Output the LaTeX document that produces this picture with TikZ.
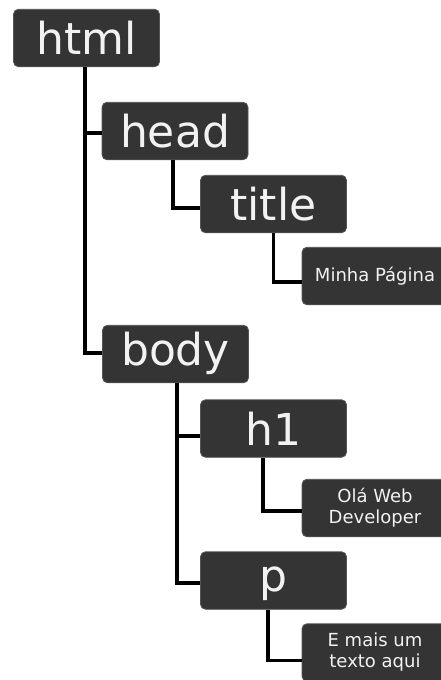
\documentclass[tikz,border=0pt]{standalone}
\usepackage{fontspec}
\setmainfont{DejaVu Sans}
\definecolor{boxfill}{HTML}{343434}
\definecolor{boxline}{HTML}{555555}
\definecolor{boxtext}{HTML}{F2F2F2}
\tikzset{
  tag/.style={draw=boxline, line width=0.8pt, fill=boxfill, rounded corners=5pt,
    minimum width=146pt, minimum height=57.5pt, inner sep=0pt,
    text=boxtext, font=\fontsize{44}{44}\selectfont,
    text height=33.4pt, text depth=0pt},
  tagdesc/.style={tag, text depth=10.5pt},
  leaf/.style={draw=boxline, line width=0.8pt, fill=boxfill, rounded corners=5pt,
    minimum width=146pt, minimum height=57.5pt, inner sep=0pt,
    text=boxtext, align=center, font=\fontsize{18}{21}\selectfont},
  conn/.style={line width=3.2pt, black}
}
\begin{document}
\begin{tikzpicture}[x=1pt,y=-1pt]
  \clip (0,0) rectangle (441,680);
  \fill[white] (0,0) rectangle (441,680);

  % box centres of the element nodes
  \coordinate (htmlc) at (86.5,38);
  \coordinate (headc) at (175,131);
  \coordinate (titlec) at (273.5,204);
  \coordinate (bodyc) at (175.5,354);
  \coordinate (h1c) at (273.5,428.5);
  \coordinate (pc) at (273.5,580.5);

  % element boxes
  \node[tag]     (html)  at (htmlc)  {html};
  \node[tag]     (head)  at (headc)  {head};
  \node[tag]     (title) at (titlec) {title};
  \node[leaf]    (minha) at (375,276) {Minha Página};
  \node[tagdesc] (body)  at (bodyc)  {body};
  \node[tag]     (h1)    at (h1c)    {h1};
  \node[leaf]    (ola)   at (375,508) {Olá Web\\Developer};
  \node[tagdesc] (p)     at (pc)     {p};
  \node[leaf]    (emais) at (375,652.5) {E mais um\\texto aqui};

  % tree connectors
  \draw[conn] ([xshift=-1.5pt]html.south) |- ([yshift=-2pt]head.west);
  \draw[conn] ([xshift=-1.5pt]html.south) |- ([yshift=1pt]body.west);
  \draw[conn] ([xshift=-2pt]head.south) |- ([yshift=-4pt]title.west);
  \draw[conn] (title.south) |- ([yshift=-6pt]minha.west);
  \draw[conn] ([xshift=1.5pt]body.south) |- ([yshift=-7.5pt]h1.west);
  \draw[conn] ([xshift=1.5pt]body.south) |- ([yshift=-2.5pt]p.west);
  \draw[conn] ([xshift=-10.5pt]h1.south) |- ([yshift=-3pt]ola.west);
  \draw[conn] ([xshift=-5.5pt]p.south) |- ([yshift=-8pt]emais.west);
\end{tikzpicture}
\end{document}
